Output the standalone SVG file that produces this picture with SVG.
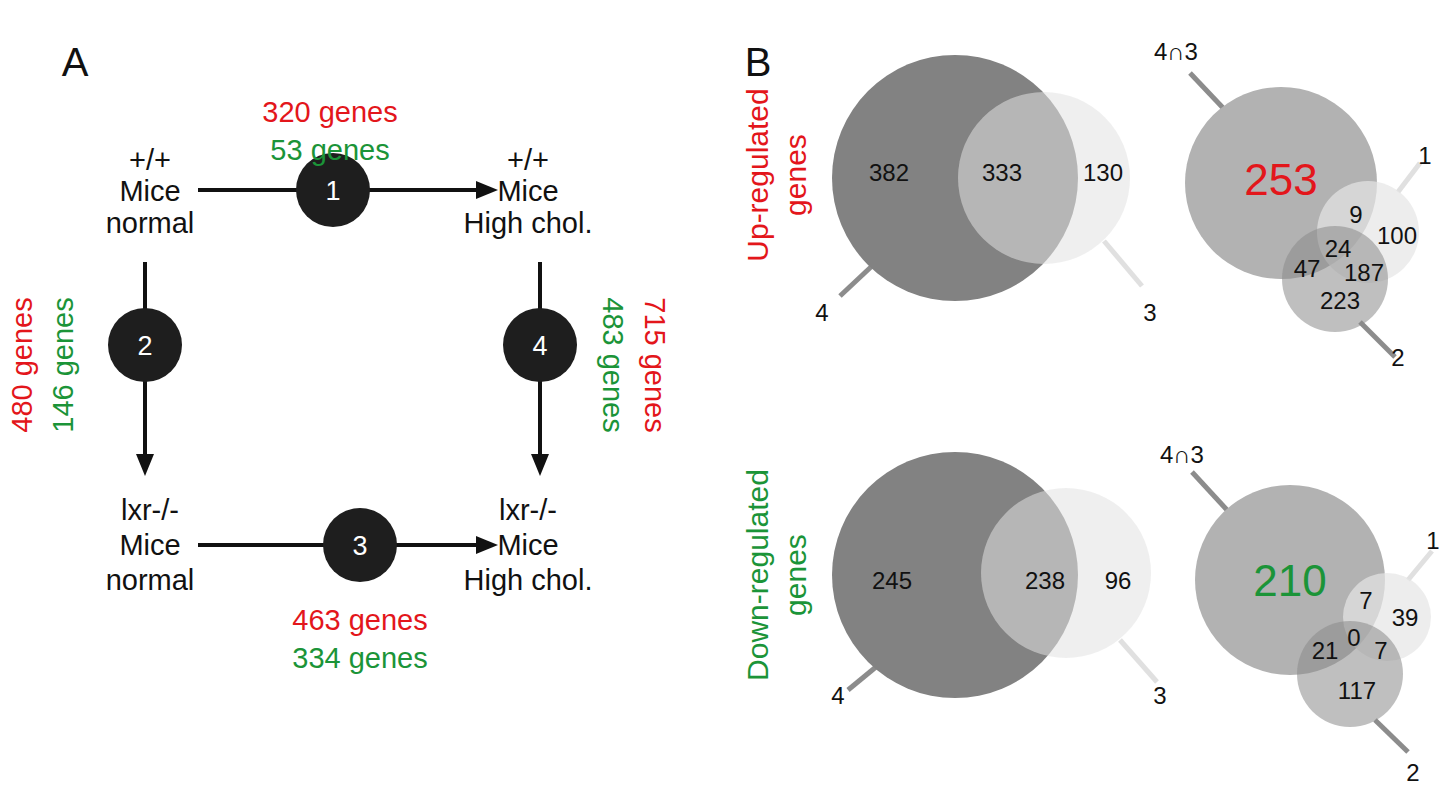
<svg xmlns="http://www.w3.org/2000/svg" width="1451" height="800" viewBox="0 0 1451 800">
<defs>
<style>
text{font-family:"Liberation Sans",Arial,sans-serif;fill:#111;text-anchor:middle}
.n{font-size:29px}
.s{font-size:30px}
.v{font-size:24px}
.r{fill:#e3161b}
.g{fill:#1b9438}
.ax{stroke:#111;stroke-width:4;fill:none}
.nc{fill:#1e1e1e}
.nt{fill:#fff;font-size:27px}
.ld{stroke:#8c8c8c;stroke-width:5}
.ll{stroke:#e0e0e0;stroke-width:5}
</style>
</defs>
<rect width="1451" height="800" fill="#fff"/>
<text x="75" y="76" style="font-size:40px">A</text>
<text x="758" y="76" style="font-size:40px">B</text>

<g id="connectors">
<line class="ax" x1="198" y1="190" x2="482" y2="190"/><path d="M498,190 L476,181 L476,199 z" fill="#111"/>
<line class="ax" x1="145" y1="262" x2="145" y2="460"/><path d="M145,476 L136,454 L154,454 z" fill="#111"/>
<line class="ax" x1="540" y1="262" x2="540" y2="460"/><path d="M540,476 L531,454 L549,454 z" fill="#111"/>
<line class="ax" x1="198" y1="545" x2="482" y2="545"/><path d="M498,545 L476,536 L476,554 z" fill="#111"/>
</g>

<g id="n_wt_normal"><text class="n" x="150" y="170">+/+</text><text class="n" x="150" y="201">Mice</text><text class="n" x="150" y="233">normal</text></g>
<g id="n_wt_high"><text class="n" x="528" y="170">+/+</text><text class="n" x="528" y="201">Mice</text><text class="n" x="528" y="233">High chol.</text></g>
<g id="n_ko_normal"><text class="n" x="150" y="520">lxr-/-</text><text class="n" x="150" y="555">Mice</text><text class="n" x="150" y="590">normal</text></g>
<g id="n_ko_high"><text class="n" x="528" y="520">lxr-/-</text><text class="n" x="528" y="555">Mice</text><text class="n" x="528" y="590">High chol.</text></g>

<g id="c1"><circle class="nc" cx="333" cy="190" r="37"/><text class="nt" x="333" y="200">1</text></g>
<g id="c2"><circle class="nc" cx="145" cy="345" r="37"/><text class="nt" x="145" y="355">2</text></g>
<g id="c3"><circle class="nc" cx="360" cy="545" r="37"/><text class="nt" x="360" y="555">3</text></g>
<g id="c4"><circle class="nc" cx="540" cy="345" r="37"/><text class="nt" x="540" y="355">4</text></g>

<g id="venn_up_left">
<line class="ld" x1="840" y1="296" x2="872" y2="266"/>
<line class="ll" x1="1104" y1="241" x2="1142" y2="286"/>
<circle cx="955" cy="178" r="123" fill="#828282"/>
<circle cx="1044" cy="178" r="86" fill="#e2e2e2" opacity="0.55"/>
<text class="v" x="889" y="181">382</text><text class="v" x="1002" y="181">333</text><text class="v" x="1103" y="181">130</text>
<text class="v" x="822" y="321">4</text><text class="v" x="1150" y="321">3</text>
</g>
<g id="venn_up_right">
<line class="ld" x1="1190" y1="73" x2="1225" y2="110"/>
<line class="ll" x1="1420" y1="163" x2="1398" y2="192"/>
<line class="ld" x1="1360" y1="322" x2="1395" y2="357"/>
<circle cx="1281" cy="183" r="96" fill="#b2b2b2"/>
<circle cx="1368" cy="232" r="51" fill="#e6e6e6" opacity="0.7"/>
<circle cx="1335" cy="279" r="53" fill="#8a8a8a" opacity="0.55"/>
<text x="1281" y="195" class="r" style="font-size:44px">253</text>
<text class="v" x="1356" y="223">9</text><text class="v" x="1397" y="244">100</text>
<text class="v" x="1338" y="257">24</text><text class="v" x="1307" y="277">47</text>
<text class="v" x="1364" y="281">187</text><text class="v" x="1340" y="309">223</text>
<text class="v" x="1176" y="60">4∩3</text><text class="v" x="1425" y="164">1</text><text class="v" x="1398" y="366">2</text>
</g>
<g id="venn_down_left">
<line class="ld" x1="848" y1="690" x2="882" y2="662"/>
<line class="ll" x1="1120" y1="640" x2="1157" y2="682"/>
<circle cx="955" cy="575" r="123" fill="#828282"/>
<circle cx="1066" cy="573" r="85" fill="#e2e2e2" opacity="0.55"/>
<text class="v" x="892" y="589">245</text><text class="v" x="1045" y="589">238</text><text class="v" x="1118" y="589">96</text>
<text class="v" x="838" y="704">4</text><text class="v" x="1160" y="704">3</text>
</g>
<g id="venn_down_right">
<line class="ld" x1="1192" y1="472" x2="1227" y2="510"/>
<line class="ll" x1="1432" y1="551" x2="1408" y2="580"/>
<line class="ld" x1="1375" y1="720" x2="1408" y2="752"/>
<circle cx="1290" cy="580" r="95" fill="#b2b2b2"/>
<circle cx="1387" cy="617" r="44" fill="#e6e6e6" opacity="0.7"/>
<circle cx="1350" cy="674" r="53" fill="#8a8a8a" opacity="0.55"/>
<text x="1290" y="596" class="g" style="font-size:44px">210</text>
<text class="v" x="1366" y="609">7</text><text class="v" x="1405" y="626">39</text>
<text class="v" x="1354" y="646">0</text><text class="v" x="1325" y="659">21</text>
<text class="v" x="1381" y="659">7</text><text class="v" x="1357" y="699">117</text>
<text class="v" x="1182" y="463">4∩3</text><text class="v" x="1433" y="549">1</text><text class="v" x="1413" y="781">2</text>
</g>

<g id="labels">
<text class="n r" x="330" y="122">320 genes</text>
<text class="n g" x="330" y="160">53 genes</text>
<text class="n r" x="360" y="630">463 genes</text>
<text class="n g" x="360" y="668">334 genes</text>
<text class="n r" transform="translate(32,365) rotate(-90)">480 genes</text>
<text class="n g" transform="translate(73,365) rotate(-90)">146 genes</text>
<text class="n g" transform="translate(603,365) rotate(90)">483 genes</text>
<text class="n r" transform="translate(645,365) rotate(90)">715 genes</text>
<text class="s r" transform="translate(768,175) rotate(-90)">Up-regulated</text>
<text class="s r" transform="translate(806,175) rotate(-90)">genes</text>
<text class="s g" transform="translate(768,575) rotate(-90)">Down-regulated</text>
<text class="s g" transform="translate(806,575) rotate(-90)">genes</text>
</g>
</svg>
